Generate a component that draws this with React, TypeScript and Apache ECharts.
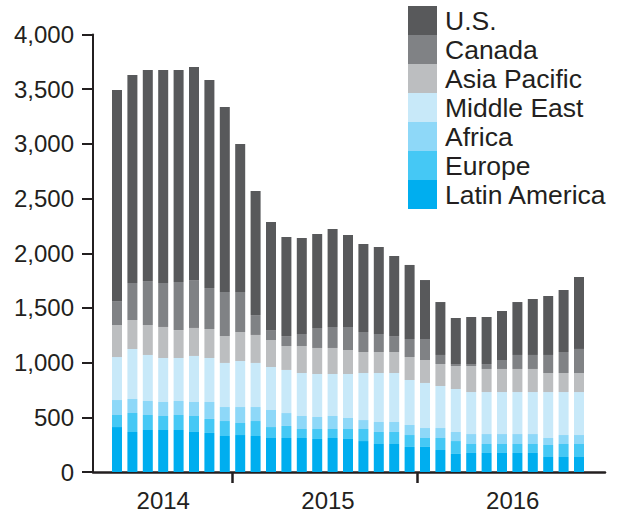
import React, { useEffect, useRef } from "react";
import * as echarts from "echarts";

// Monthly rig counts (bars from left to right)
const months = Array.from({ length: 31 }, (_, i) => `M${i + 1}`);
const latinAmerica = [411, 366, 384, 384, 384, 366, 357, 329, 338, 329, 311, 311, 311, 302, 311, 302, 283, 256, 256, 229, 229, 201, 165, 174, 174, 174, 174, 174, 137, 137, 137];
const europe = [110, 173, 137, 128, 137, 146, 128, 137, 110, 137, 100, 110, 82, 91, 82, 91, 110, 110, 110, 109, 82, 110, 118, 82, 82, 82, 82, 82, 110, 119, 119];
const africa = [137, 128, 128, 128, 128, 128, 155, 128, 146, 128, 156, 118, 119, 110, 119, 101, 82, 91, 91, 92, 91, 91, 83, 91, 91, 91, 91, 91, 64, 82, 82];
const middleEast = [393, 458, 421, 402, 393, 421, 402, 403, 421, 403, 393, 394, 393, 393, 384, 402, 430, 448, 448, 411, 412, 384, 393, 384, 384, 384, 384, 384, 420, 393, 393];
const asiaPacific = [293, 265, 274, 284, 256, 256, 265, 246, 265, 256, 247, 219, 247, 238, 238, 219, 192, 192, 192, 210, 210, 201, 210, 238, 211, 211, 211, 211, 174, 174, 174];
const canada = [219, 338, 402, 402, 439, 438, 375, 403, 366, 182, 91, 91, 110, 183, 192, 211, 183, 165, 146, 165, 192, 83, 18, 18, 45, 82, 128, 128, 165, 192, 220];
const us = [1930, 1902, 1929, 1947, 1938, 1948, 1902, 1691, 1353, 1134, 988, 906, 877, 859, 896, 841, 805, 795, 732, 677, 539, 484, 421, 430, 430, 448, 484, 512, 539, 567, 658];

// x axis: year labels, their positions (in month-index units) and year boundaries
const years = ["2014", "2015", "2016"];
const yearLabelPos = [3.0, 13.7, 25.7];
const yearBoundaries = [7.5, 19.5];

const seriesDefs = [
  { name: "Latin America", data: latinAmerica, color: "#00aeef" },
  { name: "Europe", data: europe, color: "#45c8f5" },
  { name: "Africa", data: africa, color: "#8ed8f8" },
  { name: "Middle East", data: middleEast, color: "#c8e9f9" },
  { name: "Asia Pacific", data: asiaPacific, color: "#bcbec0" },
  { name: "Canada", data: canada, color: "#808285" },
  { name: "U.S.", data: us, color: "#58595b" },
];

const FONT = "'Liberation Sans', Arial, Helvetica, sans-serif";
const TEXT = "#231f20";

export default function App() {
  const ref = useRef<HTMLDivElement>(null);
  useEffect(() => {
    if (!ref.current) return;
    const chart = echarts.init(ref.current, null, { renderer: "svg" });
    chart.setOption({
      animation: false,
      backgroundColor: "#ffffff",
      grid: [
        { left: 93, right: 13, top: 34.5, bottom: 40, containLabel: false },
        { left: 109.3, right: 31.3, top: 34.5, bottom: 40, containLabel: false },
      ],
      legend: {
        orient: "vertical",
        left: 408,
        top: 6,
        itemWidth: 29,
        itemHeight: 29,
        itemGap: 0,
        icon: "rect",
        padding: 0,
        data: ["U.S.", "Canada", "Asia Pacific", "Middle East", "Africa", "Europe", "Latin America"],
        textStyle: { fontFamily: FONT, fontSize: 26.5, color: TEXT, padding: [0, 0, 0, 3] },
      },
      xAxis: [
        {
          type: "value",
          gridIndex: 0,
          min: -1.56,
          max: 31.69,
          splitLine: { show: false },
          axisLine: { show: true, onZero: false, lineStyle: { color: TEXT, width: 2.5 } },
          axisTick: {
            show: true,
            customValues: yearBoundaries,
            length: 11,
            lineStyle: { color: TEXT, width: 2.5 },
          },
          axisLabel: {
            customValues: yearLabelPos,
            margin: 16,
            fontFamily: FONT,
            fontSize: 24,
            color: TEXT,
            formatter: (v: number) => {
              let best = 0;
              yearLabelPos.forEach((p, i) => {
                if (Math.abs(p - v) < Math.abs(yearLabelPos[best] - v)) best = i;
              });
              return years[best];
            },
          },
        },
        {
          type: "category",
          gridIndex: 1,
          data: months,
          show: false,
        },
      ],
      yAxis: [
        {
          type: "value",
          gridIndex: 0,
          min: 0,
          max: 4000,
          interval: 500,
          splitLine: { show: false },
          axisLine: { show: true, onZero: false, lineStyle: { color: TEXT, width: 2 } },
          axisTick: { show: true, inside: false, length: 11, lineStyle: { color: TEXT, width: 2 } },
          axisLabel: {
            margin: 19,
            fontFamily: FONT,
            fontSize: 24,
            color: TEXT,
            formatter: (v: number) => v.toLocaleString("en-US"),
          },
        },
        {
          type: "value",
          gridIndex: 1,
          min: 0,
          max: 4000,
          interval: 500,
          show: false,
          splitLine: { show: false },
        },
      ],
      series: seriesDefs.map((s) => ({
        name: s.name,
        type: "bar",
        stack: "total",
        xAxisIndex: 1,
        yAxisIndex: 1,
        barWidth: 10,
        itemStyle: { color: s.color },
        emphasis: { disabled: true },
        data: s.data,
      })),
    });
    return () => chart.dispose();
  }, []);
  return (
    <div
      ref={ref}
      style={{ position: "fixed", left: 0, top: 0, width: 618, height: 512 }}
    />
  );
}
